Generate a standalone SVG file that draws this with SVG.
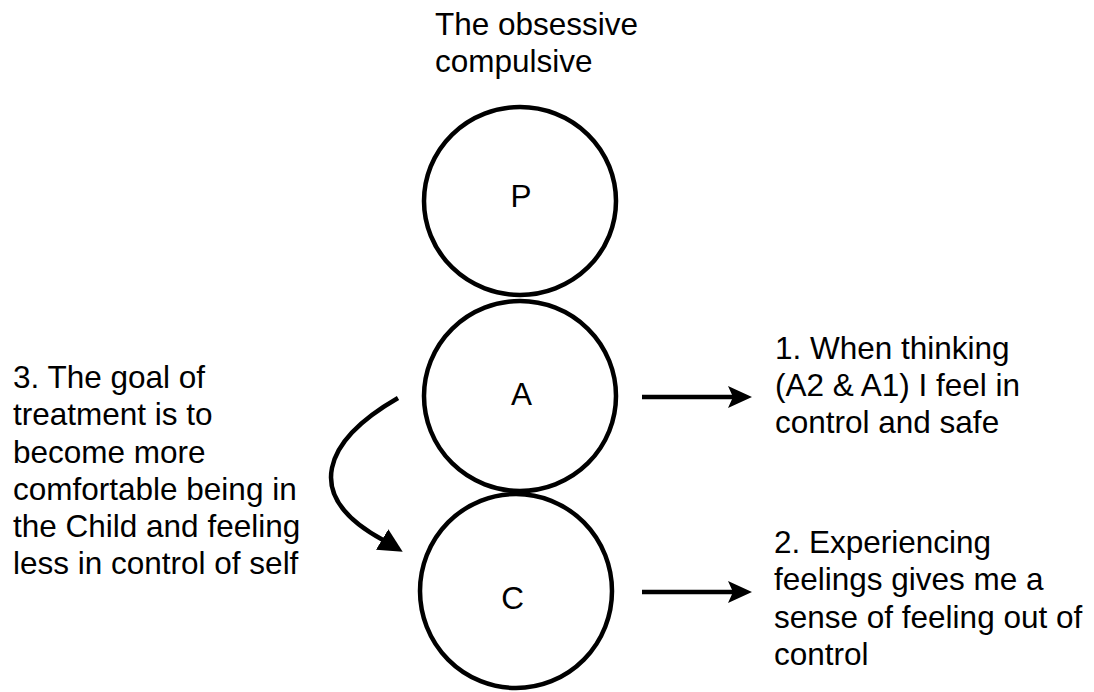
<svg xmlns="http://www.w3.org/2000/svg" width="1094" height="692" viewBox="0 0 1094 692">
<style>
  .t { font-family: "Liberation Sans", Arial, Helvetica, sans-serif; font-size: 31.5px; fill: #000; }
  .c { text-anchor: middle; }
  .ring { fill: #fff; stroke: #000; stroke-width: 4.5; }
  .ln { fill: none; stroke: #000; stroke-width: 4.5; }
</style>
<defs>
  <marker id="classic" markerUnits="userSpaceOnUse" markerWidth="24" markerHeight="22" viewBox="0 0 24 22" refX="5" refY="11" orient="auto">
    <path d="M0,0 L24,11 L0,22 L5,11 Z" fill="#000"/>
  </marker>
  <marker id="block" markerUnits="userSpaceOnUse" markerWidth="24" markerHeight="24" viewBox="0 0 24 24" refX="1" refY="12" orient="31">
    <path d="M0,0 L24,12 L0,24 Z" fill="#000"/>
  </marker>
</defs>
<rect width="1094" height="692" fill="#fff"/>
<g id="title">
  <text class="t" x="435" y="35">The obsessive</text>
  <text class="t" x="435" y="72">compulsive</text>
</g>
<g id="node-P">
  <ellipse class="ring" cx="520" cy="201" rx="96" ry="94"/>
  <text class="t c" x="521" y="207">P</text>
</g>
<g id="node-A">
  <ellipse class="ring" cx="520" cy="396" rx="96" ry="95"/>
  <text class="t c" x="521.5" y="405">A</text>
</g>
<g id="node-C">
  <ellipse class="ring" cx="516" cy="591" rx="96" ry="97"/>
  <text class="t c" x="512.5" y="609">C</text>
</g>
<g id="connectors">
  <path class="ln" d="M398,398 C325,440 300,495 383,540" marker-end="url(#block)"/>
  <line class="ln" x1="642" y1="397" x2="733" y2="397" marker-end="url(#classic)"/>
  <line class="ln" x1="642" y1="592" x2="733" y2="592" marker-end="url(#classic)"/>
</g>
<g id="label-3">
  <text class="t" x="13" y="388">3. The goal of</text>
  <text class="t" x="13" y="425">treatment is to</text>
  <text class="t" x="13" y="463">become more</text>
  <text class="t" x="13" y="500">comfortable being in</text>
  <text class="t" x="13" y="537">the Child and feeling</text>
  <text class="t" x="13" y="574">less in control of self</text>
</g>
<g id="label-1">
  <text class="t" x="775" y="359">1. When thinking</text>
  <text class="t" x="775" y="396">(A2 &amp; A1) I feel in</text>
  <text class="t" x="775" y="433">control and safe</text>
</g>
<g id="label-2">
  <text class="t" x="774" y="553">2. Experiencing</text>
  <text class="t" x="774" y="590">feelings gives me a</text>
  <text class="t" x="774" y="628">sense of feeling out of</text>
  <text class="t" x="774" y="665">control</text>
</g>
</svg>
